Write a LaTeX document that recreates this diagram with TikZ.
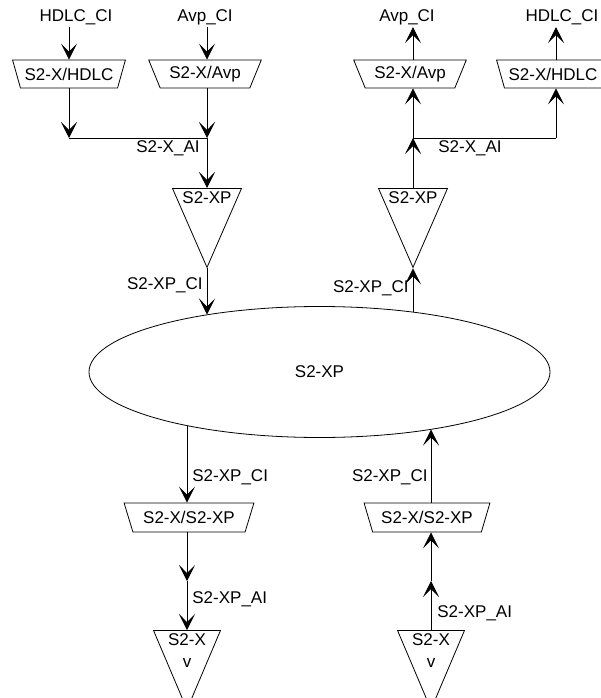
\documentclass[tikz,border=0pt]{standalone}
\usepackage{fontspec}
\setmainfont{Liberation Sans}
\usetikzlibrary{shapes.geometric,arrows.meta}

\begin{document}
\begin{tikzpicture}[x=1pt,y=-1pt,line width=0.8pt,
    every node/.style={font=\fontsize{17}{22}\selectfont},
    adapt/.style={draw,trapezium,shape border rotate=180,trapezium stretches=true,
      trapezium left angle=60,trapezium right angle=60,
      minimum width=113pt,minimum height=28pt,inner sep=0pt},
    term/.style={draw,isosceles triangle,shape border rotate=-90,
      isosceles triangle stretches=true,minimum width=69pt,minimum height=79pt,inner sep=0pt},
    flow/.style={-{Stealth[length=16pt,width=16pt,inset=8pt]}},
    lbl/.style={inner sep=2pt}]

  \useasboundingbox (0,0) rectangle (600,698);

  % adaptation functions, top
  \node[adapt] (hdlcl) at (69,74)  {S2-X/HDLC};
  \node[adapt] (avpl)  at (205,74) {S2-X/Avp};
  \node[adapt] (avpr)  at (410,74) {S2-X/Avp};
  \node[adapt] (hdlcr) at (553,74) {S2-X/HDLC};

  % trail terminations
  \node[term,anchor=lower side] (xpl) at (207,188) {};
  \node[term,anchor=lower side] (xpr) at (413,188) {};
  \node (xpltxt) at (207,198) {S2-XP};
  \node (xprtxt) at (413,198) {S2-XP};

  % connection function
  \node[draw,ellipse,minimum width=461pt,minimum height=131pt,inner sep=0pt] (core) at (319.5,372) {S2-XP};

  % bottom
  \node[adapt,minimum width=130pt,minimum height=29pt] (adl) at (189,517.5) {S2-X/S2-XP};
  \node[adapt,minimum width=126pt,minimum height=29pt] (adr) at (427,517.5) {S2-X/S2-XP};
  \node[term,minimum width=67pt,anchor=lower side] (tvl) at (187,630) {};
  \node[term,minimum width=67pt,anchor=lower side] (tvr) at (431,630) {};
  \node[align=center] (tvltxt) at (187,651) {S2-X\\v};
  \node[align=center] (tvrtxt) at (431,651) {S2-X\\v};

  % labels
  \node[lbl] (ci1) at (76,17)  {HDLC\_CI};
  \node[lbl] (ci2) at (205,17) {Avp\_CI};
  \node[lbl] (ci3) at (407,17) {Avp\_CI};
  \node[lbl] (ci4) at (562,17) {HDLC\_CI};
  \node[lbl,anchor=east] (ail) at (202,148) {S2-X\_AI};
  \node[lbl,anchor=west] (air) at (436,148) {S2-X\_AI};
  \node[lbl,anchor=east] (cil) at (205,285) {S2-XP\_CI};
  \node[lbl,anchor=east] (cir) at (411,288) {S2-XP\_CI};
  \node[lbl,anchor=west] (cibl) at (190,477) {S2-XP\_CI};
  \node[lbl,anchor=east] (cibr) at (430,477) {S2-XP\_CI};
  \node[lbl,anchor=west] (aibl) at (190,599) {S2-XP\_AI};
  \node[lbl,anchor=west] (aibr) at (435,613) {S2-XP\_AI};

  \coordinate (jl) at (69,138);
  \coordinate (jm) at (207,138);
  \coordinate (jr) at (413,138);
  \coordinate (jh) at (556,138);
  \coordinate (ml) at (187,581);
  \coordinate (mr) at (431,581);

  % sink side
  \draw[flow] (ci1.south -| jl) -- (jl |- hdlcl.north);
  \draw[flow] (ci2.south -| jm) -- (jm |- avpl.north);
  \draw[flow] (jl |- hdlcl.south) -- (jl);
  \draw (jl) -- (jm);
  \draw[flow] (jm |- avpl.south) -- (jm);
  \draw[flow] (jm) -- (xpl.lower side);
  \draw[flow] (xpl.apex) -- (xpl.apex |- core.153);

  % source side
  \draw[flow] (xpr.apex |- core.33) -- (xpr.apex);
  \draw[flow] (xpr.lower side) -- (jr);
  \draw[flow] (jr) -- (jr |- avpr.south);
  \draw (jr) -- (jh);
  \draw[flow] (jh) -- (jh |- hdlcr.south);
  \draw[flow] (jr |- avpr.north) -- (jr |- ci3.south);
  \draw[flow] (jh |- hdlcr.north) -- (jh |- ci4.south);

  % server layer
  \draw[flow] (ml |- core.202) -- (ml |- adl.north);
  \draw[flow] (ml |- adl.south) -- (ml);
  \draw[flow] (ml) -- (tvl.lower side);
  \draw[flow] (mr |- adr.north) -- (mr |- core.333);
  \draw[flow] (mr) -- (mr |- adr.south);
  \draw[flow] (tvr.lower side) -- (mr);

\end{tikzpicture}
\end{document}
